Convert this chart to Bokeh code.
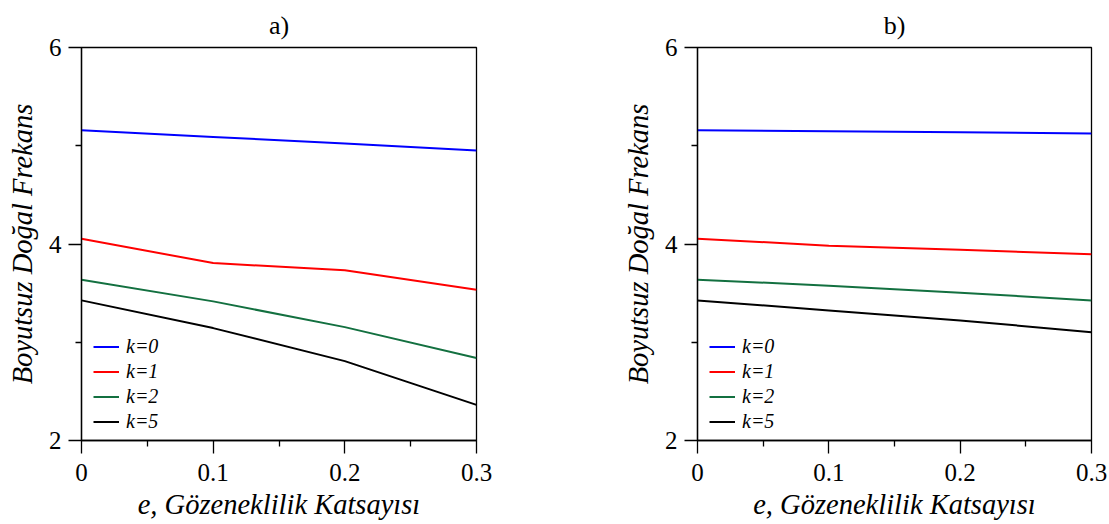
from bokeh.plotting import figure
from bokeh.layouts import row
from bokeh.models import FixedTicker, Legend, LegendItem, Range1d
from bokeh.embed import file_html
from bokeh.resources import INLINE

# ---- data ----
e_values = [0.0, 0.1, 0.2, 0.3]
series_names = ["k=0", "k=1", "k=2", "k=5"]
series_colors = ["#0000ff", "#ff0000", "#137040", "#000000"]

a_k0 = [5.158, 5.090, 5.022, 4.951]
a_k1 = [4.054, 3.806, 3.732, 3.535]
a_k2 = [3.637, 3.416, 3.154, 2.839]
a_k5 = [3.426, 3.144, 2.808, 2.363]

b_k0 = [5.158, 5.148, 5.138, 5.124]
b_k1 = [4.054, 3.983, 3.942, 3.895]
b_k2 = [3.637, 3.576, 3.504, 3.426]
b_k5 = [3.426, 3.324, 3.222, 3.103]

x_ticks = [0.0, 0.1, 0.2, 0.3]
x_tick_labels = ["0", "0.1", "0.2", "0.3"]
x_minor = [0.05, 0.15, 0.25]
y_ticks = [2, 4, 6]
y_tick_labels = ["2", "4", "6"]
y_minor = [3, 5]

titles = ["a)", "b)"]
x_label = "e, Gözeneklilik Katsayısı"
y_label = "Boyutsuz Doğal Frekans"

FONT = "Times New Roman"


def make_panel(title, ys, width, border_left, border_right):
    p = figure(width=width, height=524, output_backend="svg", toolbar_location=None,
               x_range=Range1d(0, 0.3), y_range=Range1d(2, 6),
               min_border_left=border_left, min_border_right=border_right,
               min_border_top=47, min_border_bottom=84, title=title)
    p.title.align = "center"
    p.title.text_font = FONT
    p.title.text_font_size = "26px"
    p.title.text_font_style = "normal"
    p.title.text_color = "black"
    p.title.standoff = 15
    p.grid.visible = False
    p.outline_line_color = "black"
    p.outline_line_width = 1.3
    p.outline_line_alpha = 1

    p.xaxis.ticker = FixedTicker(ticks=x_ticks, minor_ticks=x_minor)
    p.yaxis.ticker = FixedTicker(ticks=y_ticks, minor_ticks=y_minor)
    p.xaxis.major_label_overrides = dict(zip(x_ticks, x_tick_labels))
    p.yaxis.major_label_overrides = dict(zip(y_ticks, y_tick_labels))
    for ax in (p.xaxis[0], p.yaxis[0]):
        ax.axis_line_width = 1.3
        ax.axis_line_color = "black"
        ax.major_tick_line_color = "black"
        ax.minor_tick_line_color = "black"
        ax.major_tick_line_width = 1.3
        ax.minor_tick_line_width = 1.3
        ax.major_tick_in = 0
        ax.major_tick_out = 13
        ax.minor_tick_in = 0
        ax.minor_tick_out = 6
        ax.major_label_text_font = FONT
        ax.major_label_text_font_size = "25px"
        ax.major_label_text_color = "black"
        ax.axis_label_text_font = FONT
        ax.axis_label_text_font_style = "italic"
        ax.axis_label_text_color = "black"
        ax.axis_label_text_font_size = "28.5px"
    p.xaxis.major_label_standoff = 10
    p.yaxis.major_label_standoff = 7
    p.xaxis.axis_label = x_label
    p.yaxis.axis_label = y_label
    p.xaxis.axis_label_standoff = 5
    p.yaxis.axis_label_standoff = 8

    items = []
    for name, color, y in zip(series_names, series_colors, ys):
        r = p.line(e_values, y, line_color=color, line_width=2)
        items.append(LegendItem(label=name, renderers=[r]))
    leg = Legend(items=items, location=(12, 7), border_line_color=None,
                 background_fill_alpha=0, padding=0, margin=0,
                 glyph_width=26, glyph_height=21, label_height=21, spacing=2,
                 label_standoff=7, label_text_font=FONT, label_text_color="black",
                 label_text_font_size="20px", label_text_font_style="italic")
    p.add_layout(leg, "center")
    return p


pa = make_panel(titles[0], [a_k0, a_k1, a_k2, a_k5], 560, 81, 84)
pb = make_panel(titles[1], [b_k0, b_k1, b_k2, b_k5], 549, 137, 18)

layout = row(pa, pb)
open("out.html", "w").write(file_html(layout, INLINE))
